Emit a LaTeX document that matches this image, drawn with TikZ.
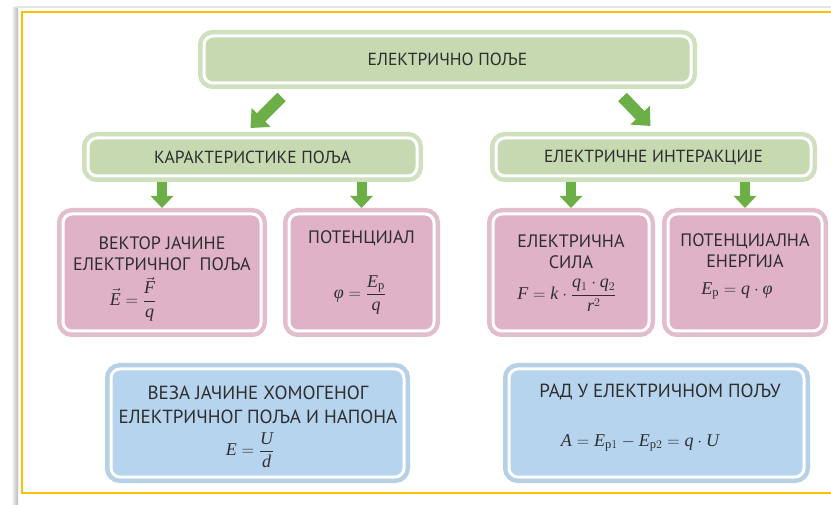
\documentclass[tikz,border=0pt]{standalone}
\usepackage{fontspec}
\setmainfont{PT Sans}
\setmathrm{Liberation Serif}
\newfontfamily\serifit[ItalicFont={Liberation Serif Italic}]{Liberation Serif}
\newcommand{\mi}[1]{\mathit{#1}}
\newcommand{\phiit}{\mbox{\serifit\itshape φ}}
\usetikzlibrary{arrows.meta,calc}
\definecolor{gfill}{HTML}{C6D9B1}
\definecolor{gout}{HTML}{CFE0BE}
\definecolor{pfill}{HTML}{DFB2C7}
\definecolor{pout}{HTML}{E2BDCE}
\definecolor{bfill}{HTML}{B6D4EE}
\definecolor{bout}{HTML}{B6D0E6}
\definecolor{agreen}{HTML}{6DAF47}
\definecolor{frameY}{HTML}{FFC000}
\definecolor{txt}{HTML}{2E2E2E}
\tikzset{
  box/.style={rounded corners=9pt, draw=white, line width=3pt, outer sep=6pt,
    inner sep=0pt},
  greenbox/.style={box, fill=gfill, preaction={draw=gout, line width=12pt}, minimum height=38pt},
  pinkbox/.style={box, fill=pfill, preaction={draw=pout, line width=12pt}, minimum height=117pt},
  bluebox/.style={box, fill=bfill, preaction={draw=bout, line width=12pt}, minimum height=108pt},
  lbl/.style={inner sep=0pt, align=center, text=txt},
  gtext/.style={lbl, font=\fontsize{17.5}{21}\selectfont},
  ptext/.style={lbl, font=\fontsize{18}{21}\selectfont},
  btext/.style={lbl, font=\fontsize{19}{24}\selectfont},
  ftext/.style={lbl, font=\fontsize{18}{21}\selectfont},
  bigarrow/.style={draw=agreen, line width=12pt, -{Triangle[width=26pt,length=15pt]}},
  smallarrow/.style={draw=agreen, line width=10pt, -{Triangle[width=22pt,length=12pt]}}
}
\begin{document}
\begin{tikzpicture}[x=1pt,y=-1pt]
\useasboundingbox (0,0) rectangle (831,505);
\fill[white] (0,0) rectangle (831,505);
% shadow and frame
\shade[left color=white, right color=black!28] (11,8) rectangle (18,505);
\draw[black!10, line width=2pt] (15,7) -- (831,7);
\draw[frameY, line width=2pt] (831,12) -- (22,12) -- (22,493) -- (831,493);

% boxes
\node[greenbox, minimum width=487pt, minimum height=47pt] (top) at (447.5,59.5) {};
\node[greenbox, minimum width=329pt] (kar) at (252.5,157) {};
\node[greenbox, minimum width=315pt] (int) at (653.5,157) {};
\node[pinkbox, minimum width=198pt] (p1) at (162,272.5) {};
\node[pinkbox, minimum width=145pt] (p2) at (361.5,272.5) {};
\node[pinkbox, minimum width=156pt] (p3) at (571,272.5) {};
\node[pinkbox, minimum width=154pt] (p4) at (745,272.5) {};
\node[bluebox, minimum width=293pt] (b1) at (257.5,423) {};
\node[bluebox, minimum width=295pt] (b2) at (656.5,423) {};

% texts
\node[gtext] (topt) at (447.5,59) {ЕЛЕКТРИЧНО ПОЉЕ};
\node[gtext] (kart) at (252.5,157) {КАРАКТЕРИСТИКЕ ПОЉА};
\node[gtext] (intt) at (653.5,157) {ЕЛЕКТРИЧНЕ ИНТЕРАКЦИЈЕ};

\node[ptext] (p1t) at (162,254) {ВЕКТОР ЈАЧИНЕ\\ЕЛЕКТРИЧНОГ~ ПОЉА};
\node[ftext] (p1f) at (133,299) {$\displaystyle \vec{\mi{E}}=\frac{\vec{\mi{F}}}{\mi{q}}$};
\node[ptext] (p2t) at (361.5,238) {ПОТЕНЦИЈАЛ};
\node[ftext] (p2f) at (360,295) {$\displaystyle \phiit=\frac{\mi{E}_{\mathrm{p}}}{\mi{q}}$};
\node[ptext] (p3t) at (571,252) {ЕЛЕКТРИЧНА\\СИЛА};
\node[ftext] (p3f) at (567,295) {$\displaystyle \mi{F}=\mi{k}\cdot\frac{\mi{q}_1\cdot \mi{q}_2}{\mi{r}^2}$};
\node[ptext] (p4t) at (745,251) {ПОТЕНЦИЈАЛНА\\ЕНЕРГИЈА};
\node[ftext] (p4f) at (737,291) {$\mi{E}_{\mathrm{p}}=\mi{q}\cdot\phiit$};

\node[btext] (b1t) at (258,405) {ВЕЗА ЈАЧИНЕ ХОМОГЕНОГ\\ЕЛЕКТРИЧНОГ ПОЉА И НАПОНА};
\node[ftext] (b1f) at (250,450) {$\displaystyle \mi{E}=\frac{\mi{U}}{\mi{d}}$};
\node[btext] (b2t) at (660,392) {РАД У ЕЛЕКТРИЧНОМ ПОЉУ};
\node[ftext] (b2f) at (640,443) {$\mi{A}=\mi{E}_{\mathrm{p}1}-\mi{E}_{\mathrm{p}2}=\mi{q}\cdot \mi{U}$};

% connectors
\coordinate (a1s) at ($(top.south)+(-166,8)$);
\coordinate (a1e) at ($(kar.north)+(-2,-4)$);
\coordinate (a2s) at ($(top.south)+(175,8)$);
\coordinate (a2e) at ($(int.north)+(-3,-6)$);
\draw[bigarrow] (a1s) -- (a1e);
\draw[bigarrow] (a2s) -- (a2e);
\draw[smallarrow] (kar.south -| p1.north) -- (p1.north);
\draw[smallarrow] (kar.south -| p2.north) -- (p2.north);
\draw[smallarrow] (int.south -| p3.north) -- (p3.north);
\draw[smallarrow] (int.south -| p4.north) -- (p4.north);
\end{tikzpicture}
\end{document}
